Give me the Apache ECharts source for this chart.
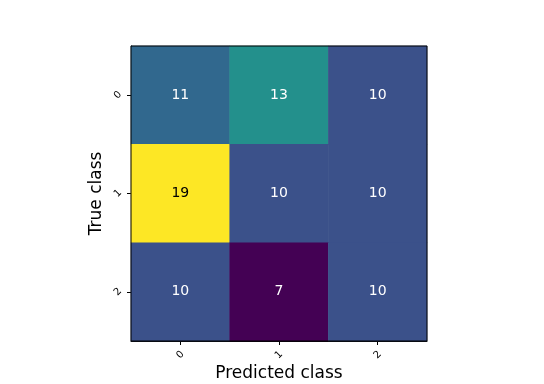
<!DOCTYPE html>
<html><head><meta charset="utf-8">
<script src="https://cdn.jsdelivr.net/npm/echarts@6/dist/echarts.min.js"></script>
<style>html,body{margin:0;padding:0;background:#fff}#c{width:544px;height:384px}</style>
</head><body><div id="c"></div>
<script>
const xCategories = ['0', '1', '2'];
const yCategories = ['0', '1', '2'];
const row0 = [11, 13, 10];
const row1 = [19, 10, 10];
const row2 = [10, 7, 10];
const rows = [row0, row1, row2];
const viridis = ['#440154','#482878','#3e4989','#31688e','#26828e','#1f9e89','#35b779','#6ece58','#b5de2b','#fde725'];

const data = [];
let vmin = Infinity, vmax = -Infinity;
rows.forEach(r => r.forEach(v => { vmin = Math.min(vmin, v); vmax = Math.max(vmax, v); }));
const thresh = (vmin + vmax) / 2;
rows.forEach((r, yi) => r.forEach((v, xi) => {
  data.push({ value: [xi, yi, v], label: { color: v > thresh ? '#000000' : '#ffffff' } });
}));

const chart = echarts.init(document.getElementById('c'));
chart.setOption({
  animation: false,
  grid: { left: 131, top: 46, width: 296, height: 295, containLabel: false, outerBoundsMode: 'none' },
  xAxis: {
    type: 'category', data: xCategories,
    name: 'Predicted class', nameLocation: 'middle', nameGap: 24, nameMoveOverlap: false,
    nameTextStyle: { fontFamily: 'DejaVu Sans', fontSize: 17, color: '#000' },
    axisLine: { show: true, onZero: false, lineStyle: { color: '#000', width: 1 } },
    axisTick: { show: true, alignWithLabel: true, length: 4, lineStyle: { color: '#000' } },
    axisLabel: { rotate: 45, align: 'center', verticalAlign: 'middle', fontFamily: 'DejaVu Sans', fontSize: 10, color: '#000', margin: 14 },
    splitLine: { show: false }
  },
  yAxis: {
    type: 'category', data: yCategories, inverse: true,
    name: 'True class', nameLocation: 'middle', nameGap: 26, nameMoveOverlap: false,
    nameTextStyle: { fontFamily: 'DejaVu Sans', fontSize: 17, color: '#000' },
    axisLine: { show: true, onZero: false, lineStyle: { color: '#000', width: 1 } },
    axisTick: { show: true, alignWithLabel: true, length: 4, lineStyle: { color: '#000' } },
    axisLabel: { rotate: 45, align: 'center', verticalAlign: 'middle', fontFamily: 'DejaVu Sans', fontSize: 10, color: '#000', margin: 13 },
    splitLine: { show: false }
  },
  visualMap: { show: false, min: vmin, max: vmax, dimension: 2, inRange: { color: viridis } },
  series: [{
    type: 'heatmap', data: data,
    label: { show: true, fontFamily: 'DejaVu Sans', fontSize: 14 },
    itemStyle: { borderWidth: 0 },
    emphasis: { disabled: true }
  }],
  graphic: [{
    type: 'rect', shape: { x: 131, y: 46, width: 296, height: 295 },
    style: { fill: 'none', stroke: '#000', lineWidth: 1 }, z: 100, silent: true
  }]
});
</script></body></html>
